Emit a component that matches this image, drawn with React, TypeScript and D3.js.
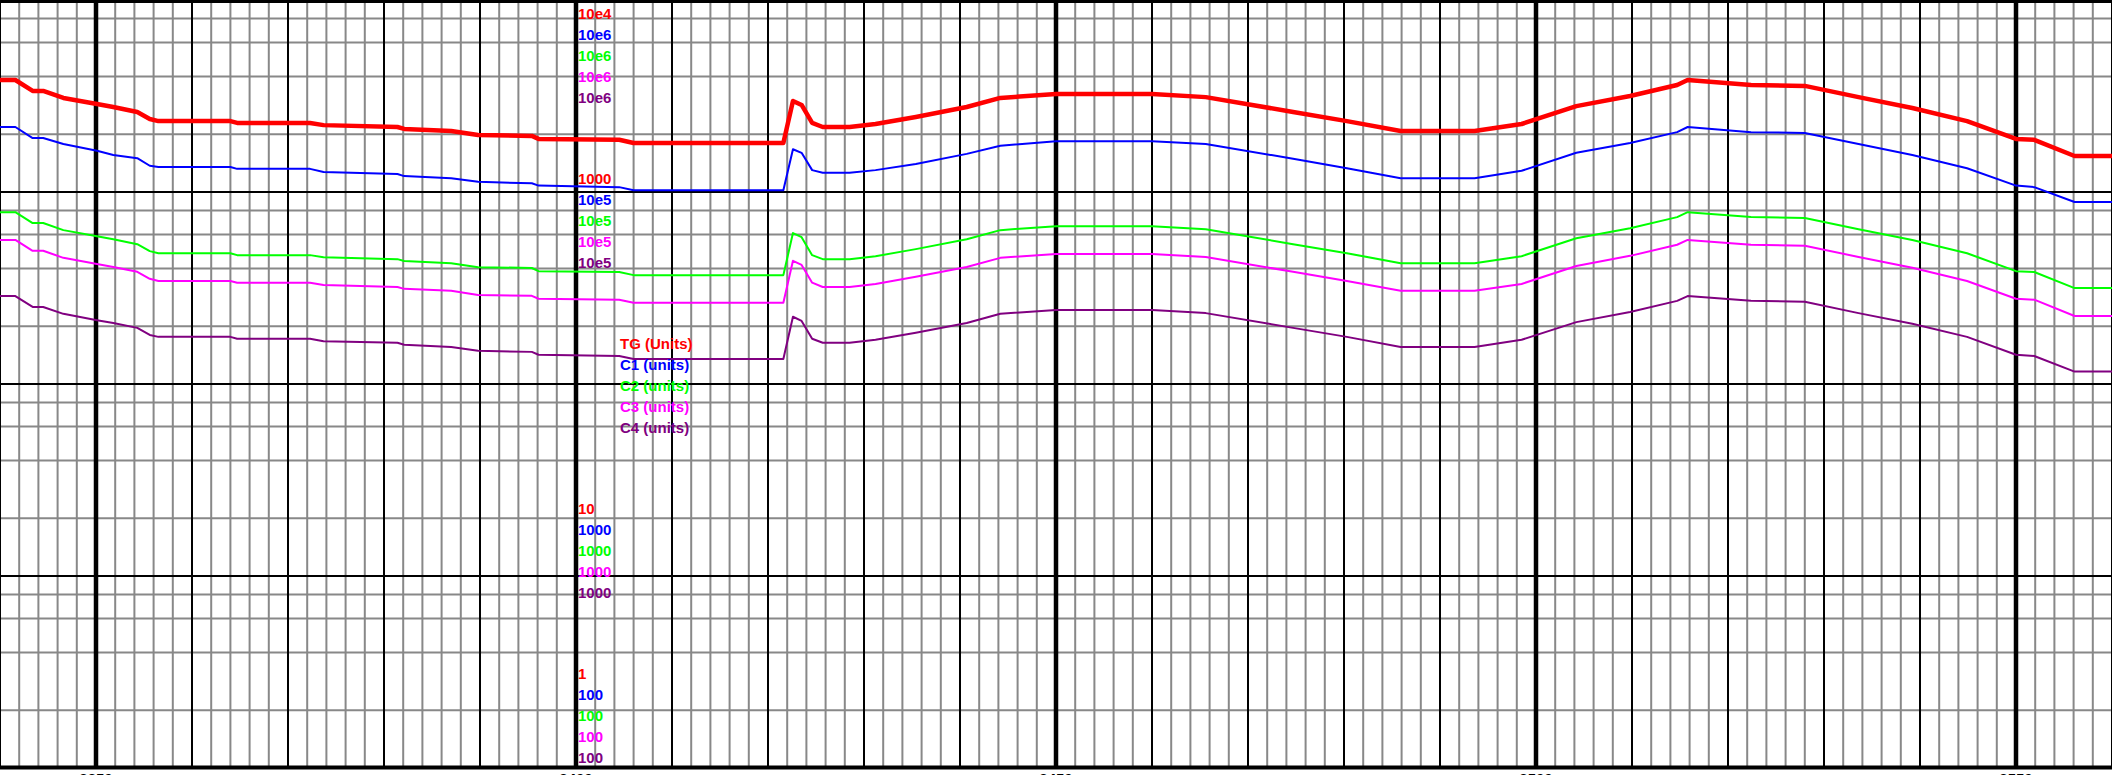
import React from 'react';
import * as d3 from 'd3';

// depth samples shared by every curve
const depths = [
  2340, 2341.6, 2343.4, 2344.5, 2346.6, 2350.1, 2351.8, 2354.3, 2355.6, 2356.5,
  2364, 2364.7, 2372.3, 2373.7, 2381.4, 2382.1, 2387, 2389.8, 2395.4, 2396.1,
  2404.5, 2406, 2421.6, 2422.6, 2423.5, 2424.6, 2425.7, 2428.5, 2431.2, 2435.4,
  2440.7, 2444.2, 2450, 2460, 2465.6, 2474.7, 2480.3, 2485.9, 2493.6, 2498.5,
  2504.2, 2509.8, 2514.7, 2515.8, 2522.4, 2528, 2533.6, 2539.2, 2544.9, 2550,
  2551.9, 2556.1, 2560,
];

const tgValues = [
  3830, 3830, 3360, 3360, 3090, 2870, 2770, 2610, 2400, 2340,
  2340, 2290, 2290, 2230, 2180, 2130, 2080, 1980, 1960, 1890,
  1870, 1800, 1800, 2980, 2840, 2290, 2180, 2180, 2260, 2460,
  2770, 3090, 3240, 3240, 3120, 2610, 2340, 2080, 2080, 2260,
  2800, 3160, 3610, 3830, 3610, 3570, 3120, 2740, 2340, 1890,
  1870, 1540, 1540,
];

const c1Values = [
  218000, 218000, 191000, 191000, 178000, 164000, 156000, 150000, 137000, 135000,
  135000, 132000, 132000, 127000, 124000, 121000, 118000, 113000, 111000, 108000,
  106000, 102000, 102000, 167000, 160000, 130000, 126000, 126000, 130000, 140000,
  158000, 174000, 184000, 184000, 178000, 149000, 133000, 118000, 118000, 129000,
  160000, 180000, 205000, 218000, 205000, 203000, 178000, 156000, 133000, 108000,
  106000, 88700, 88700,
];

const c2Values = [
  78500, 78500, 68900, 68900, 63300, 58800, 56800, 53500, 49200, 48000,
  48000, 46900, 46900, 45700, 44700, 43700, 42600, 40600, 40200, 38700,
  38300, 36900, 36900, 61100, 58200, 46900, 44700, 44700, 46300, 50400,
  56800, 63300, 66400, 66400, 64000, 53500, 48000, 42600, 42600, 46300,
  57400, 64800, 74000, 78500, 74000, 73200, 64000, 56200, 48000, 38700,
  38300, 31600, 31600,
];

const c3Values = [
  56300, 56300, 49400, 49400, 45400, 42200, 40700, 38400, 35300, 34400,
  34400, 33700, 33700, 32800, 32000, 31300, 30600, 29100, 28800, 27800,
  27500, 26500, 26500, 43800, 41700, 33700, 32000, 32000, 33200, 36200,
  40700, 45400, 47600, 47600, 45900, 38400, 34400, 30600, 30600, 33200,
  41200, 46500, 53100, 56300, 53100, 52500, 45900, 40300, 34400, 27800,
  27500, 22600, 22600,
];

const c4Values = [
  28700, 28700, 25200, 25200, 23200, 21500, 20800, 19600, 18000, 17600,
  17600, 17200, 17200, 16700, 16400, 16000, 15600, 14900, 14700, 14200,
  14000, 13500, 13500, 22400, 21300, 17200, 16400, 16400, 17000, 18500,
  20800, 23200, 24300, 24300, 23400, 19600, 17600, 15600, 15600, 17000,
  21000, 23700, 27100, 28700, 27100, 26800, 23400, 20600, 17600, 14200,
  14000, 11600, 11600,
];

const seriesNames = ['TG (Units)', 'C1 (units)', 'C2 (units)', 'C3 (units)', 'C4 (units)'];
const seriesColors = ['#ff0000', '#0000ff', '#00ff00', '#ff00ff', '#800080'];
const seriesWidths = [4.5, 2, 2, 2, 2];

const tgTicks = [10000, 1000, 10, 1];
const tgTickLabels = ['10e4', '1000', '10', '1'];
const cTicks = [1e6, 1e5, 1000, 100];
const cTickLabels = ['10e6', '10e5', '1000', '100'];

const depthLabels = [2350, 2400, 2450, 2500, 2550];

const W = 2112;
const H = 775;
const plotBottom = 768;

export default function App() {
  const x = d3.scaleLinear().domain([2340, 2560]).range([0, W]);
  const yTG = d3.scaleLog().domain([1, 1e4]).range([plotBottom, 0]);
  const yC = d3.scaleLog().domain([100, 1e6]).range([plotBottom, 0]);
  const labelTG = d3.scaleLog().domain([1, 1e4]).range([673, 13]);
  const labelC = d3.scaleLog().domain([100, 1e6]).range([673, 13]);

  const allValues = [tgValues, c1Values, c2Values, c3Values, c4Values];
  const scales = [yTG, yC, yC, yC, yC];

  // horizontal grid: decades + 2,4,6,8 multiples
  const hMinor: number[] = [];
  const hMajor: number[] = [];
  [1, 10, 100, 1000].forEach(dec => {
    [2, 4, 6, 8].forEach(m => hMinor.push(dec * m));
  });
  [1, 10, 100, 1000, 10000].forEach(v => hMajor.push(v));

  const vLines = d3.range(2340, 2561, 2);

  const labelX = 578;
  const font = '"Liberation Sans", Arial, sans-serif';

  return (
    <div style={{ position: 'absolute', left: 0, top: 0 }}>
      <svg width={W} height={H} style={{ display: 'block', background: '#fff' }}>
        {/* horizontal minor grid */}
        {hMinor.map(v => (
          <line key={'hm' + v} x1={0} x2={W} y1={yTG(v)} y2={yTG(v)} stroke="#888" strokeWidth={2} />
        ))}
        {/* vertical grid */}
        {vLines.map(d => {
          const thick = d % 50 === 0;
          const mid = d % 10 === 0;
          return (
            <line
              key={'v' + d}
              x1={x(d)}
              x2={x(d)}
              y1={0}
              y2={plotBottom}
              stroke={thick || mid ? '#000' : '#888'}
              strokeWidth={thick ? 4.5 : 2}
            />
          );
        })}
        {/* decade lines */}
        {hMajor.map(v => (
          <line
            key={'hM' + v}
            x1={0}
            x2={W}
            y1={v === 10000 ? 1.5 : v === 1 ? plotBottom - 0.5 : yTG(v)}
            y2={v === 10000 ? 1.5 : v === 1 ? plotBottom - 0.5 : yTG(v)}
            stroke="#000"
            strokeWidth={v === 1 ? 4 : v === 10000 ? 3 : 2}
          />
        ))}

        {/* curves */}
        {allValues.map((vals, i) => {
          const line = d3
            .line<number>()
            .x((_, j) => x(depths[j]))
            .y(v => scales[i](v));
          return (
            <path
              key={'s' + i}
              d={line(vals) || ''}
              fill="none"
              stroke={seriesColors[i]}
              strokeWidth={seriesWidths[i]}
              strokeLinejoin="round"
            />
          );
        })}

        {/* scale labels */}
        <g fontFamily={font} fontWeight="bold" fontSize={15}>
          {tgTicks.map((t, k) => (
            <text key={'tg' + t} x={labelX} y={labelTG(t)} dominantBaseline="central" fill={seriesColors[0]}>
              {tgTickLabels[k]}
            </text>
          ))}
          {[1, 2, 3, 4].map(i =>
            cTicks.map((t, k) => (
              <text
                key={'c' + i + '-' + t}
                x={labelX}
                y={labelC(t) + i * 21}
                dominantBaseline="central"
                fill={seriesColors[i]}
              >
                {cTickLabels[k]}
              </text>
            ))
          )}
        </g>

        {/* legend */}
        <g fontFamily={font} fontWeight="bold" fontSize={15}>
          {seriesNames.map((n, i) => (
            <text key={n} x={620} y={343 + i * 21.2} dominantBaseline="central" fill={seriesColors[i]}>
              {n}
            </text>
          ))}
        </g>

        {/* depth labels */}
        <g fontFamily={font} fontWeight="bold" fontSize={15} textAnchor="middle">
          {depthLabels.map(d => (
            <text key={'d' + d} x={x(d)} y={773} dominantBaseline="hanging" fill="#000">
              {d}
            </text>
          ))}
        </g>
      </svg>
    </div>
  );
}
